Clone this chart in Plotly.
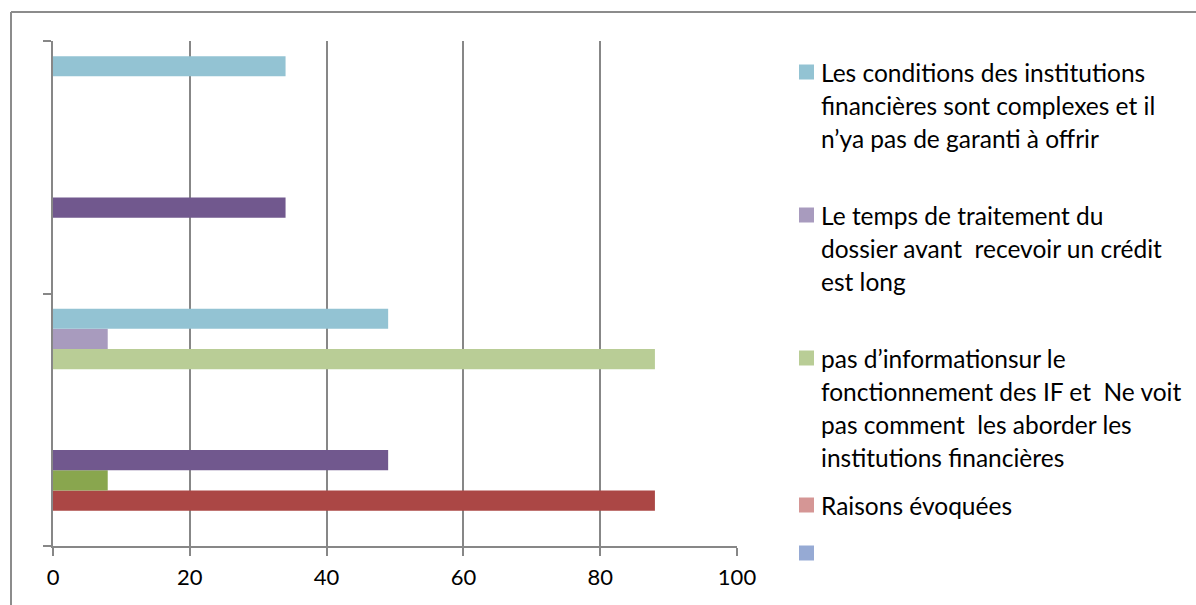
import plotly.graph_objects as go

# ---------------- data ----------------
categories = ["1", "2"]  # two unlabeled categories (bottom, top)

series_names = [
    "Série 1", "Série 2", "Série 3", "Série 4", "Série 5", "Série 6",
    "",
    "Raisons évoquées",
    "pas d’informationsur le fonctionnement des IF et  Ne voit pas comment  les aborder les institutions financières",
    "Le temps de traitement du dossier avant  recevoir un crédit est long",
    "Les conditions des institutions financières sont complexes et il n’ya pas de garanti à offrir",
]

series_values = [
    [None, None],
    [88, None],
    [8, None],
    [49, 34],
    [None, None],
    [None, None],
    [None, None],
    [None, None],
    [88, None],
    [8, None],
    [49, 34],
]

series_colors = [
    "#4F81BD", "#AB4745", "#89A64E", "#71588E", "#4BACC6", "#F79646",
    "#96AAD4", "#D59695", "#B9CD96", "#A89BBE", "#93C3D3",
]

# legend entries (top to bottom): series index and wrapped label lines
legend_series = [10, 9, 8, 7, 6]
legend_lines = [
    ["Les conditions des institutions", "financières sont complexes et il", "n’ya pas de garanti à offrir"],
    ["Le temps de traitement du", "dossier avant  recevoir un crédit", "est long"],
    ["pas d’informationsur le", "fonctionnement des IF et  Ne voit", "pas comment  les aborder les", "institutions financières"],
    ["Raisons évoquées"],
    [""],
]

x_ticks = [0, 20, 40, 60, 80, 100]

# ---------------- layout constants ----------------
W, H = 1196, 605
PL, PR, PT, PB = 53, 737, 41, 546  # plot area in pixels
FONT = "Lato"
GRID = "#878787"

fig = go.Figure()
for name, vals, col in zip(series_names, series_values, series_colors):
    fig.add_trace(go.Bar(
        y=categories, x=vals, name=name, orientation="h",
        marker=dict(color=col, line=dict(width=0)),
        showlegend=False,
    ))

pw, ph = PR - PL, PB - PT


def px_x(p):
    return (p - PL) / pw


def px_y(p):
    return (PB - p) / ph


shapes = []
annotations = []

# outer chart frame (left and top edges visible)
shapes.append(dict(type="line", xref="paper", yref="paper",
                   x0=px_x(11), x1=px_x(11), y0=px_y(12), y1=px_y(H + 10),
                   line=dict(color="#8C8C8C", width=2)))
shapes.append(dict(type="line", xref="paper", yref="paper",
                   x0=px_x(11), x1=px_x(W + 10), y0=px_y(12), y1=px_y(12),
                   line=dict(color="#8C8C8C", width=2)))

# manual legend
first_line_y = [72, 215, 358, 505, 553]
line_step = 33.3
for idx, lines, y0 in zip(legend_series, legend_lines, first_line_y):
    shapes.append(dict(type="rect", xref="paper", yref="paper",
                       x0=px_x(799), x1=px_x(814), y0=px_y(y0 - 7.5), y1=px_y(y0 + 7.5),
                       fillcolor=series_colors[idx], line=dict(width=0)))
    for k, txt in enumerate(lines):
        if not txt:
            continue
        annotations.append(dict(xref="paper", yref="paper", x=px_x(819), y=px_y(y0 + k * line_step),
                                xanchor="left", yanchor="middle", text=txt, showarrow=False,
                                font=dict(family=FONT, size=24.5, color="#000000")))

fig.update_layout(
    width=W, height=H,
    margin=dict(l=PL, r=W - PR, t=PT, b=H - PB, pad=0),
    paper_bgcolor="white", plot_bgcolor="white",
    barmode="group", bargap=0.12, bargroupgap=0,
    showlegend=False,
    font=dict(family=FONT, size=22, color="#000000"),
    shapes=shapes, annotations=annotations,
    xaxis=dict(range=[0, 100], tickvals=x_ticks, showgrid=True, gridcolor=GRID, gridwidth=2,
               showline=True, linecolor=GRID, linewidth=2, ticks="outside", ticklen=8,
               tickcolor=GRID, tickwidth=2, zeroline=False, ticklabelstandoff=3,
               tickfont=dict(family=FONT, size=22, color="#000000")),
    yaxis=dict(type="category", categoryorder="array", categoryarray=categories,
               range=[-0.5, 1.5], tickson="boundaries", showticklabels=False,
               showgrid=False, showline=True, linecolor=GRID, linewidth=2,
               ticks="outside", ticklen=8, tickcolor=GRID, tickwidth=2, zeroline=False),
)

fig.write_html("out.html")
